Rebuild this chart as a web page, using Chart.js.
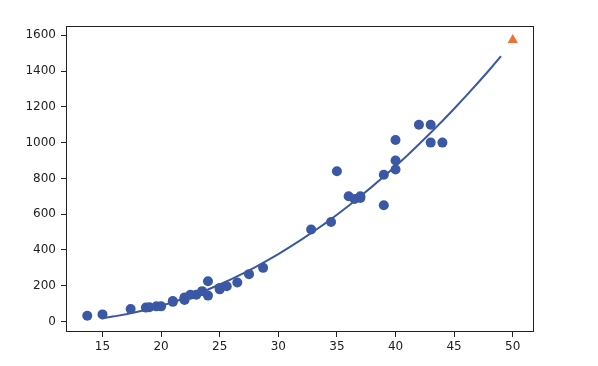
<!DOCTYPE html>
<html>
<head>
<meta charset="utf-8">
<script src="https://cdn.jsdelivr.net/npm/chart.js@4"></script>
<style>
  html, body { margin: 0; padding: 0; background: #fff; }
  canvas { display: block; }
</style>
</head>
<body>
<canvas id="chart" width="598" height="366"></canvas>
<script>
// 훈련 데이터 (길이, 무게) - 그림에서 읽은 값
const trainLength = [13.7, 15.0, 17.4, 18.7, 19.0, 19.6, 20.0, 21.0, 21.0, 22.0, 22.0, 22.0, 22.5, 23.0, 23.5, 24.0, 24.0,
                     25.0, 25.0, 25.6, 26.5, 27.5, 28.7, 32.8, 34.5, 35.0, 36.0, 36.5, 37.0, 37.0, 39.0, 39.0,
                     40.0, 40.0, 40.0, 42.0, 43.0, 43.0, 44.0];
const trainWeight = [32, 40, 70, 78, 80, 85, 85, 110, 115, 120, 135, 130, 150, 150, 170, 225, 145,
                     180, 188, 197, 218, 265, 300, 514, 556, 840, 700, 685, 700, 690, 650, 820,
                     1015, 900, 850, 1100, 1100, 1000, 1000];

// 2차 곡선 (15 ~ 49)
const curveX = [15, 16, 17, 18, 19, 20, 21, 22, 23, 24, 25, 26, 27, 28, 29, 30, 31, 32,
                33, 34, 35, 36, 37, 38, 39, 40, 41, 42, 43, 44, 45, 46, 47, 48, 49];
const curveY = [19, 29, 41, 55, 70, 88, 108, 130, 154, 179, 207, 237, 269, 303, 339, 377, 417, 459,
                503, 549, 597, 647, 700, 754, 810, 868, 928, 991, 1055, 1121, 1189, 1260, 1332, 1406, 1483];

// 예측값
const predX = [50];
const predY = [1574];

const xTicks = [15, 20, 25, 30, 35, 40, 45, 50];
const yTicks = [0, 200, 400, 600, 800, 1000, 1200, 1400, 1600];

const blue = '#3b58a5';
const orange = '#ee7330';

// 축 테두리 (네 면 모두)
const frame = {
    id: 'frame',
    afterDatasetsDraw(chart) {
        const a = chart.chartArea;
        const ctx = chart.ctx;
        ctx.save();
        ctx.strokeStyle = '#222';
        ctx.lineWidth = 1;
        ctx.strokeRect(a.left + 0.5, a.top + 0.5, a.right - a.left - 1, a.bottom - a.top - 1);
        ctx.restore();
    }
};

const toPoints = (xs, ys) => xs.map((x, i) => ({ x: x, y: ys[i] }));

new Chart(document.getElementById('chart'), {
    type: 'scatter',
    data: {
        datasets: [
            {
                data: toPoints(predX, predY),
                pointStyle: 'triangle',
                pointRadius: 6,
                backgroundColor: orange,
                borderColor: orange,
                borderWidth: 0,
                order: 0
            },
            {
                type: 'line',
                data: toPoints(curveX, curveY),
                borderColor: blue,
                borderWidth: 2,
                pointRadius: 0,
                tension: 0,
                fill: false,
                order: 1
            },
            {
                data: toPoints(trainLength, trainWeight),
                pointRadius: 5,
                backgroundColor: blue,
                borderWidth: 0,
                order: 2
            }
        ]
    },
    options: {
        responsive: false,
        animation: false,
        layout: { padding: { left: 0, right: 64, top: 26, bottom: 0 } },
        plugins: { legend: { display: false }, tooltip: { enabled: false } },
        scales: {
            x: {
                type: 'linear',
                min: 11.885,
                max: 51.815,
                afterBuildTicks: axis => { axis.ticks = xTicks.map(v => ({ value: v })); },
                afterFit: scale => { scale.height = 34; },
                grid: { drawOnChartArea: false, tickLength: 5, color: '#222' },
                border: { display: false },
                ticks: {
                    padding: 3, color: '#222', maxRotation: 0,
                    font: { family: 'DejaVu Sans', size: 12 },
                    callback: v => String(v)
                }
            },
            y: {
                type: 'linear',
                min: -58.4,
                max: 1651.7,
                afterBuildTicks: axis => { axis.ticks = yTicks.map(v => ({ value: v })); },
                afterFit: scale => { scale.width = 66; },
                grid: { drawOnChartArea: false, tickLength: 5, color: '#222' },
                border: { display: false },
                ticks: {
                    padding: 5, color: '#222',
                    font: { family: 'DejaVu Sans', size: 12 },
                    callback: v => String(v)
                }
            }
        }
    },
    plugins: [frame]
});
</script>
</body>
</html>
